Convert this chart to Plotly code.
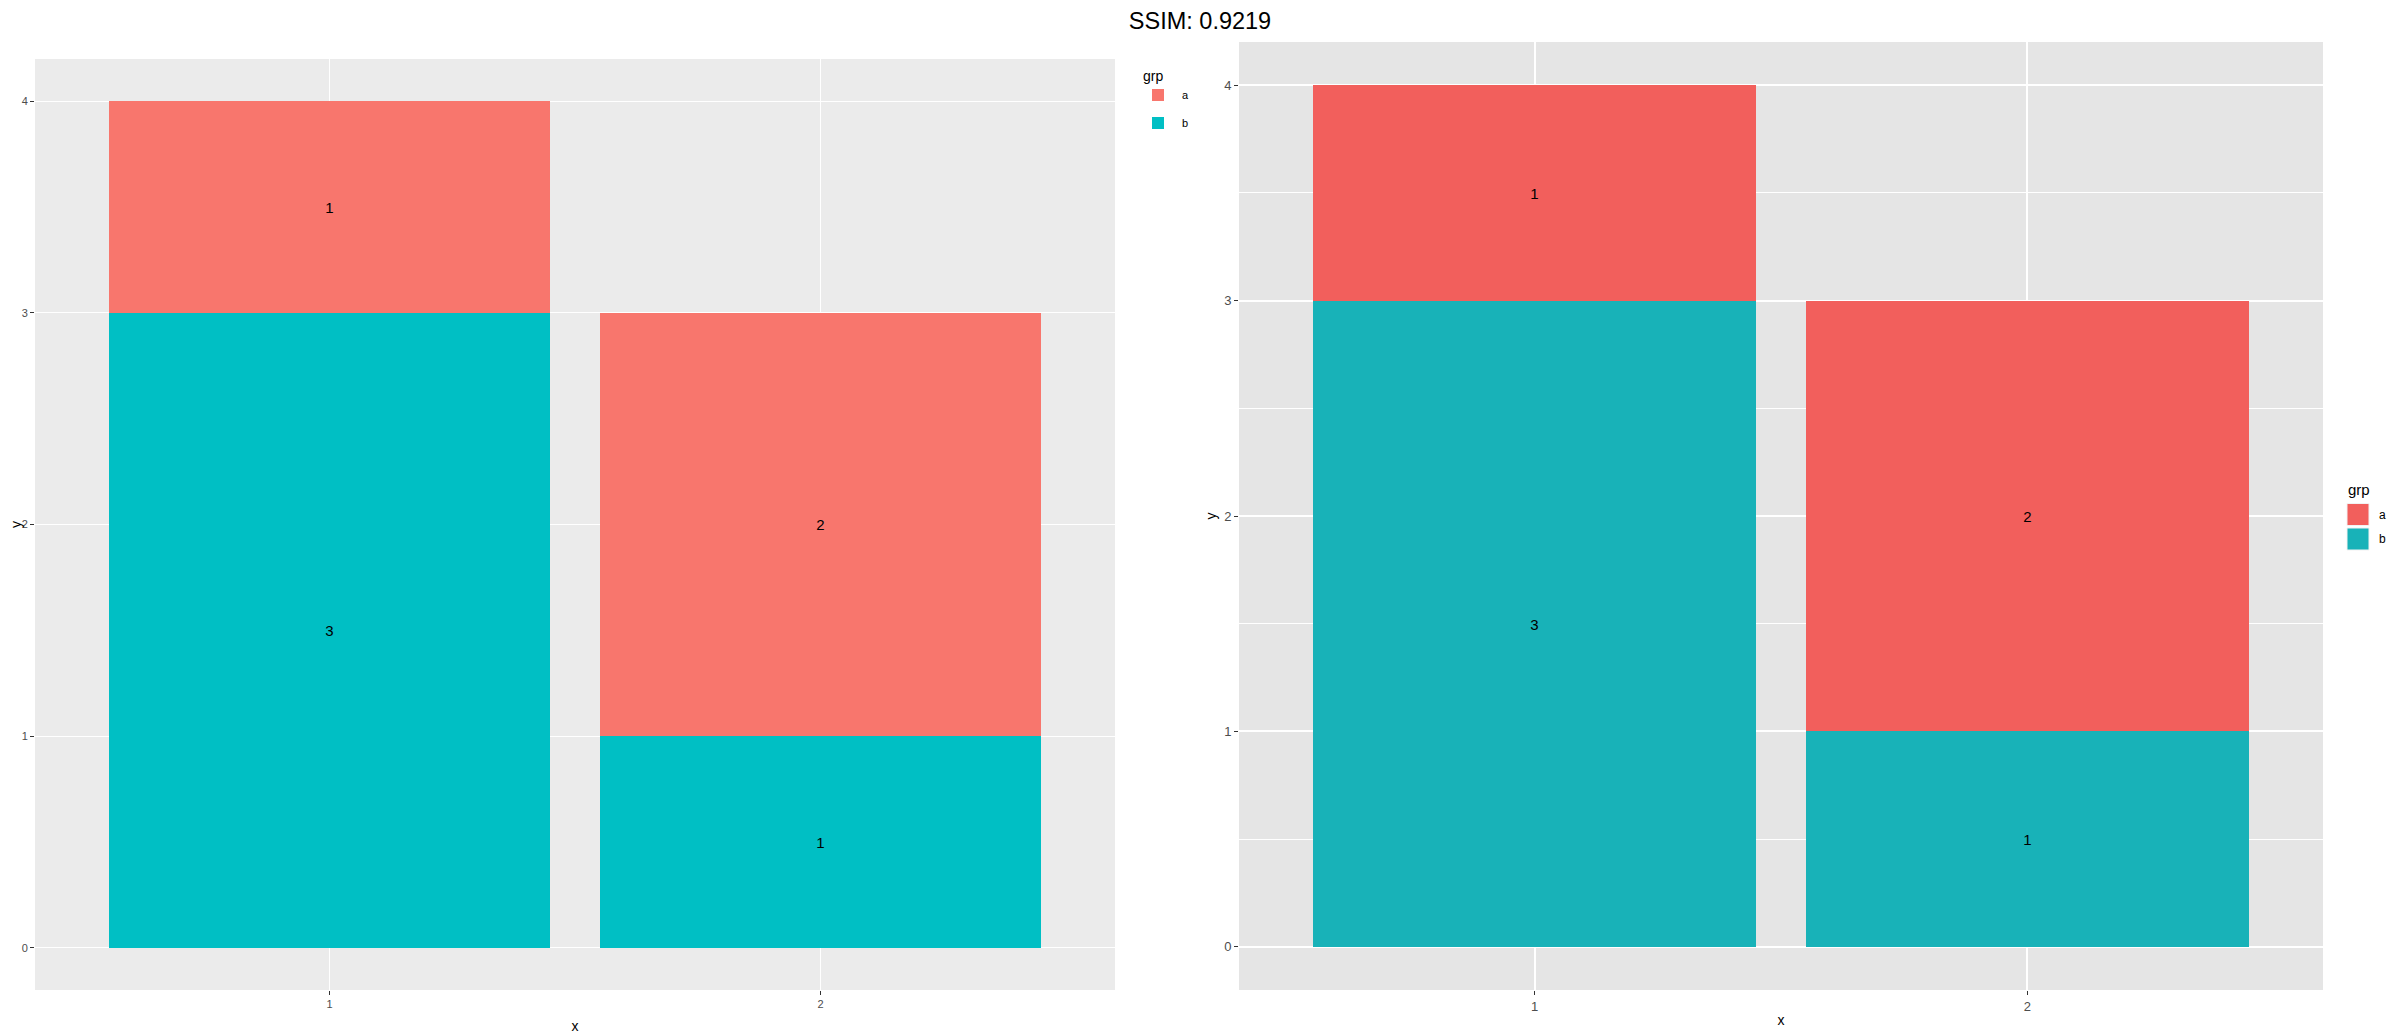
import plotly.graph_objects as go

# data
x_cats = [1, 2]
grp_b = [3, 1]
grp_a = [1, 2]
groups = ["a", "b"]
title_text = "SSIM: 0.9219"

OFF = 8  # default page body margin
W, H = 2400 - 2 * OFF, 1034 - OFF

left_colors = {"a": "#F8766D", "b": "#00BFC4"}
right_colors = {"a": "#F25F5C", "b": "#18B2B8"}

fig = go.Figure()

def add_bars(xa, ya, colors, fsize):
    for name, vals in (("b", grp_b), ("a", grp_a)):
        fig.add_trace(go.Bar(
            x=x_cats, y=vals, name=name, width=0.9,
            marker=dict(color=colors[name], line=dict(width=0)),
            text=[str(v) for v in vals], textposition="inside",
            insidetextanchor="middle", textangle=0,
            textfont=dict(color="black", size=fsize, family="Liberation Sans, Arial"),
            xaxis=xa, yaxis=ya, showlegend=False, hoverinfo="skip"))

add_bars("x", "y", left_colors, 15)
add_bars("x2", "y2", right_colors, 15)

def px(xp):
    return (xp - OFF) / W

def py(yp):
    return 1 - (yp - OFF) / H

font_fam = "Liberation Sans, Arial, sans-serif"

common_tick = dict(ticks="outside", ticklen=4, tickwidth=1, tickcolor="#333333",
                   showline=False, zeroline=False, automargin=False)

fig.update_layout(
    width=W, height=H, margin=dict(l=0, r=0, t=0, b=0, autoexpand=False),
    paper_bgcolor="white", barmode="stack", bargap=0,
    font=dict(family=font_fam),
    title=dict(text=title_text, x=0.5, xanchor="center", y=py(21), yanchor="middle",
               font=dict(size=23.5, color="black", family=font_fam)),
    xaxis=dict(domain=[px(35), px(1115)], range=[0.4, 2.6], anchor="y",
               tickvals=x_cats, ticktext=[str(v) for v in x_cats],
               showgrid=True, gridcolor="white", gridwidth=1,
               tickfont=dict(size=11, color="#4D4D4D"),
               title=dict(text="x", font=dict(size=14, color="black"), standoff=11),
               **common_tick),
    yaxis=dict(domain=[py(990), py(59)], range=[-0.2, 4.2], anchor="x",
               tickvals=[0, 1, 2, 3, 4], showgrid=True, gridcolor="white", gridwidth=1,
               tickfont=dict(size=11, color="#4D4D4D"),
               title=dict(text="y", font=dict(size=14, color="black"), standoff=8),
               **common_tick),
    xaxis2=dict(domain=[px(1239), px(2323)], range=[0.4, 2.6], anchor="y2",
                tickvals=x_cats, ticktext=[str(v) for v in x_cats],
                showgrid=True, gridcolor="white", gridwidth=2,
                tickfont=dict(size=13, color="#4D4D4D"),
                title=dict(text="x", font=dict(size=14, color="black"), standoff=2),
                **common_tick),
    yaxis2=dict(domain=[py(990), py(42)], range=[-0.2, 4.2], anchor="x2",
                tickvals=[0, 1, 2, 3, 4], showgrid=True, gridcolor="white", gridwidth=2,
                minor=dict(tickvals=[0.5, 1.5, 2.5, 3.5], showgrid=True,
                           gridcolor="white", gridwidth=1, ticks=""),
                tickfont=dict(size=13, color="#4D4D4D"),
                title=dict(text="y", font=dict(size=14, color="black"), standoff=4),
                **common_tick),
    plot_bgcolor="#EBEBEB",
)

# right panel background
fig.add_shape(type="rect", xref="x2 domain", yref="y2 domain", x0=0, x1=1, y0=0, y1=1,
              fillcolor="#E5E5E5", line=dict(width=0), layer="below")

# left legend
fig.add_annotation(x=px(1141), y=py(76), xref="paper", yref="paper", text="grp",
                   showarrow=False, xanchor="left", yanchor="middle",
                   font=dict(size=14, color="black"))
for i, g in enumerate(groups):
    yc = 95 + i * 28
    fig.add_shape(type="rect", xref="paper", yref="paper",
                  x0=px(1152), x1=px(1164), y0=py(yc - 6), y1=py(yc + 6),
                  fillcolor=left_colors[g], line=dict(width=0))
    fig.add_annotation(x=px(1180), y=py(yc), xref="paper", yref="paper", text=g,
                       showarrow=False, xanchor="left", yanchor="middle",
                       font=dict(size=11, color="black"))

# right legend
fig.add_annotation(x=px(2346), y=py(489), xref="paper", yref="paper", text="grp",
                   showarrow=False, xanchor="left", yanchor="middle",
                   font=dict(size=15, color="black"))
for i, g in enumerate(groups):
    yc = 514.5 + i * 24.5
    fig.add_shape(type="rect", xref="paper", yref="paper",
                  x0=px(2347), x1=px(2369), y0=py(yc - 11), y1=py(yc + 11),
                  fillcolor=right_colors[g], line=dict(width=1, color="#F2F2F2"))
    fig.add_annotation(x=px(2377), y=py(yc), xref="paper", yref="paper", text=g,
                       showarrow=False, xanchor="left", yanchor="middle",
                       font=dict(size=12, color="black"))

fig.write_html("out.html")
